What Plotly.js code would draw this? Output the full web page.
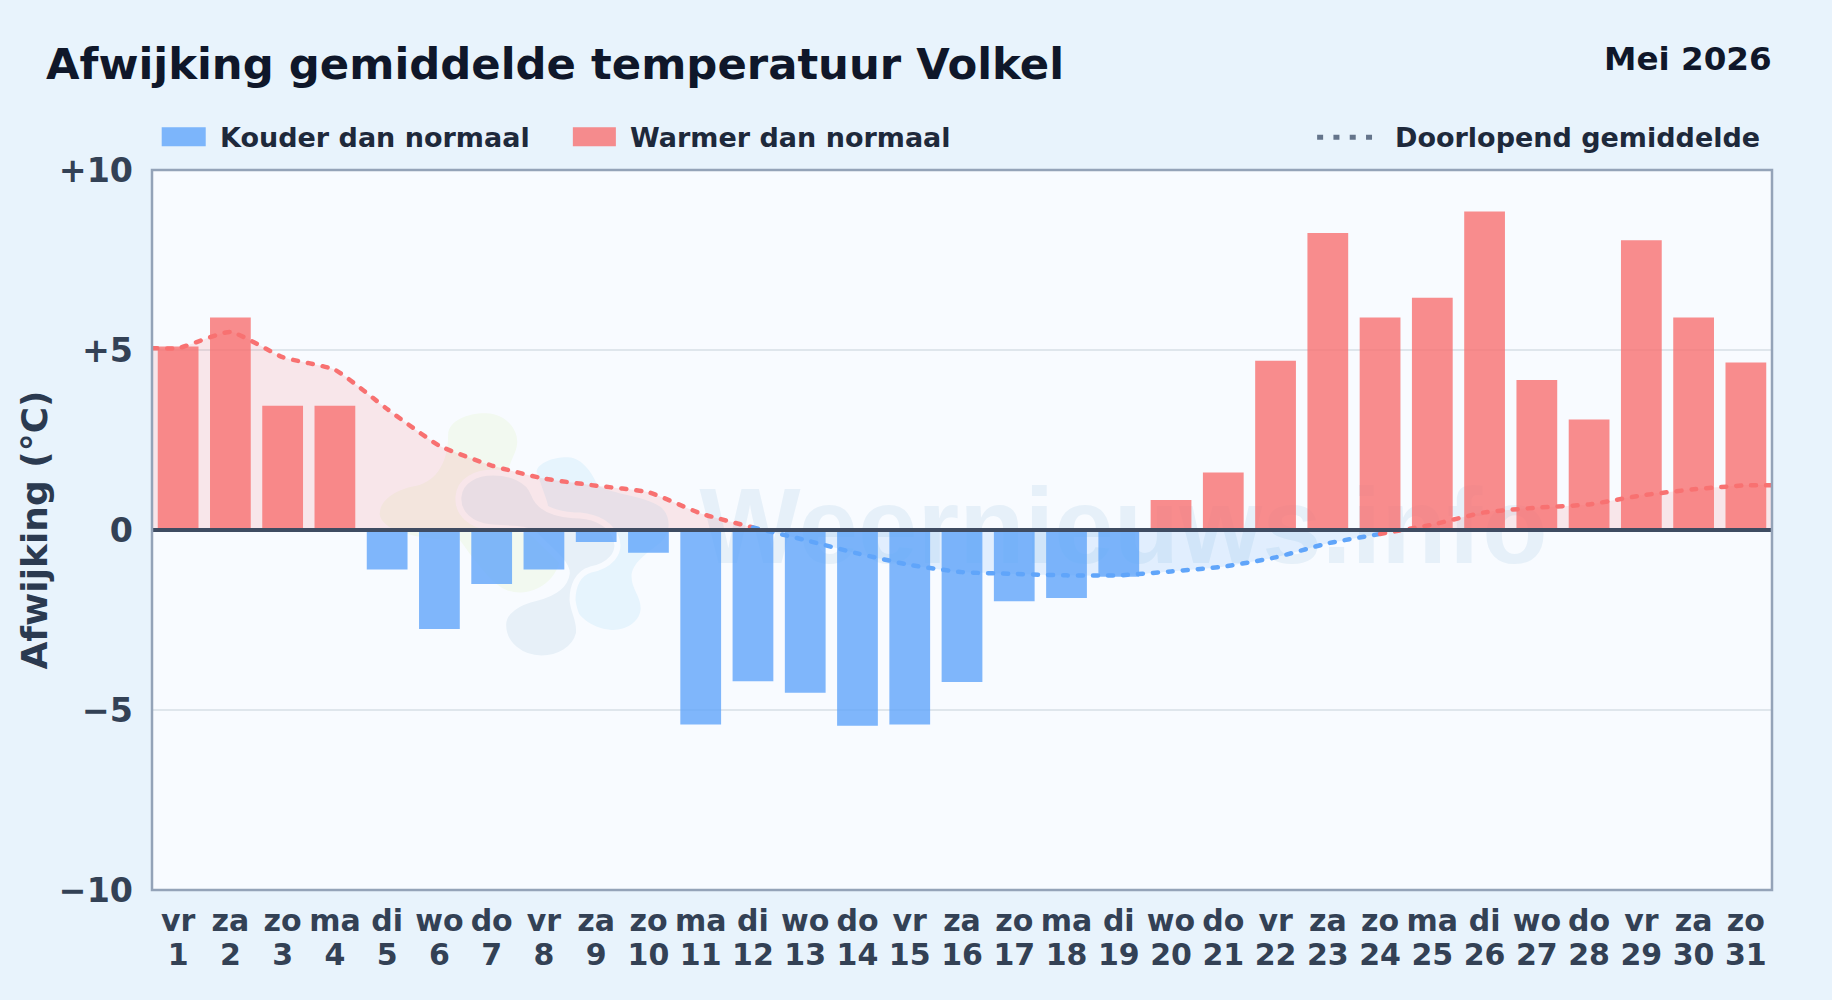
<!DOCTYPE html>
<html><head><meta charset="utf-8">
<script src="https://cdn.plot.ly/plotly-3.0.1.min.js"></script>
<style>
html,body{margin:0;padding:0;background:#e8f3fc}
#chart{width:1832px;height:1000px}
.js-line{stroke-linecap:round}
</style></head><body><div id="chart"></div>
<script>
const days=[1,2,3,4,5,6,7,8,9,10,11,12,13,14,15,16,17,18,19,20,21,22,23,24,25,26,27,28,29,30,31];
const weekdays=['vr','za','zo','ma','di','wo','do','vr','za','zo','ma','di','wo','do','vr','za','zo','ma','di','wo','do','vr','za','zo','ma','di','wo','do','vr','za','zo'];
const deviation=[5.1,5.9,3.45,3.45,-1.1,-2.75,-1.5,-1.1,-0.33,-0.63,-5.4,-4.2,-4.52,-5.44,-5.4,-4.22,-1.98,-1.89,-1.3,0.83,1.6,4.7,8.25,5.9,6.45,8.85,4.17,3.07,8.05,5.9,4.65];
const runningMean=[5.05,5.5,4.8,4.45,3.36,2.34,1.79,1.43,1.23,1.05,0.46,0.07,-0.28,-0.65,-0.97,-1.17,-1.22,-1.26,-1.26,-1.15,-1.02,-0.76,-0.37,-0.11,0.15,0.49,0.62,0.71,0.96,1.13,1.24];
const yTickVals=[-10,-5,0,5,10];
const yTickText=['−10','−5','0','+5','+10'];
const COLD='#60a5fa',WARM='#f87171';
const FONT='"DejaVu Sans", sans-serif';
const L=152.3,R=1771.7,T=169.8,B=890.4;
const px=x=>(x-L)/(R-L), py=y=>1-(y-T)/(B-T);

const lx=[0.5,...days,31.5];
const ly=[runningMean[0],...runningMean,runningMean[30]];
function runs(){
  const out=[];let cur=null;
  for(let i=1;i<lx.length;i++){
    const c=ly[i]>=0?'w':'c';
    if(!cur||cur.c!==c){cur={c,x:[lx[i-1]],y:[ly[i-1]]};out.push(cur);}
    cur.x.push(lx[i]);cur.y.push(ly[i]);
  }
  return out;
}
const lineTraces=runs().map(r=>({
  type:'scatter',mode:'lines',x:r.x,y:r.y,fill:'tozeroy',
  fillcolor:r.c==='w'?'rgba(248,113,113,0.15)':'rgba(96,165,250,0.15)',
  line:{color:r.c==='w'?WARM:COLD,width:4.5,dash:'5px,10px',shape:'spline',smoothing:0.5},
  showlegend:false,hoverinfo:'skip',name:'Doorlopend gemiddelde'}));
const barCold={type:'bar',name:'Kouder dan normaal',x:days,y:deviation.map(v=>v<0?v:null),width:0.78,
  marker:{color:'rgba(96,165,250,0.8)'},showlegend:false};
const barWarm={type:'bar',name:'Warmer dan normaal',x:days,y:deviation.map(v=>v>=0?v:null),width:0.78,
  marker:{color:'rgba(248,113,113,0.8)'},showlegend:false};
// carries the second line of the tick labels
const dayAxisCarrier={type:'scatter',mode:'none',x:days,y:days.map(()=>null),xaxis:'x2',showlegend:false,hoverinfo:'skip'};

function blob(d,ox,oy){
  return d.replace(/(-?[\d.]+),(-?[\d.]+)/g,(m,a,b)=>px(ox+a/3).toFixed(5)+','+py(oy+b/3).toFixed(5));
}
const gPath='M265,105 C265,60 330,38 380,40 C440,42 475,90 472,130 C470,170 430,200 450,260 L600,480 C590,540 530,580 480,578 C430,576 400,560 300,420 C200,420 70,400 60,345 C58,300 110,270 160,260 C220,250 265,200 265,105 Z';
const bPath='M530,215 C535,185 590,170 625,172 C670,175 700,225 712,255 C760,285 850,285 900,320 C935,345 935,400 900,430 C860,460 815,490 815,530 C815,570 845,590 842,630 C838,670 790,695 750,690 C700,685 640,650 640,590 L560,300 Z';
const dPath='M296,290 C300,240 350,218 400,218 C450,218 505,236 522,282 C534,316 570,341 640,346 C690,346 744,361 766,408 C790,462 744,499 692,509 C654,519 638,560 638,600 C641,640 662,660 657,702 C645,750 595,776 545,776 C485,776 430,735 430,675 C430,632 478,606 530,594 C578,582 616,558 621,520 C621,484 560,444 530,409 C500,379 440,389 390,382 C336,376 291,342 296,290 Z';
const shapes=[
 {type:'path',xref:'paper',yref:'paper',layer:'below',path:blob(gPath,360,400),fillcolor:'#f2f9f0',line:{width:0}},
 {type:'path',xref:'paper',yref:'paper',layer:'below',path:blob(bPath,360,400),fillcolor:'#e6f4fd',line:{width:0}},
 {type:'path',xref:'paper',yref:'paper',layer:'below',path:blob(dPath,360,400),fillcolor:'#e7f0f8',line:{width:6,color:'#f8fbff'}},
 {type:'rect',xref:'paper',yref:'paper',layer:'below',x0:px(698),x1:px(1549),y0:py(576),y1:py(456),fillcolor:'rgba(0,0,0,0)',line:{width:0},
  label:{text:'Weernieuws.info',textposition:'middle center',font:{family:'"Liberation Sans", sans-serif',size:107,weight:700,color:'#e6f0f9'}}},
 // zero line on top of the bars
 {type:'line',xref:'paper',yref:'y',x0:0,x1:1,y0:0,y1:0,line:{color:'#3f4c62',width:4}},
 // plot frame
 {type:'rect',xref:'paper',yref:'paper',x0:0,x1:1,y0:0,y1:1,fillcolor:'rgba(0,0,0,0)',line:{color:'#94a3b8',width:2.5}},
 // legend swatches
 {type:'rect',xref:'paper',yref:'paper',x0:px(162),x1:px(206),y0:py(146),y1:py(127),fillcolor:'rgba(96,165,250,0.8)',line:{width:0}},
 {type:'rect',xref:'paper',yref:'paper',x0:px(573),x1:px(616),y0:py(146),y1:py(127),fillcolor:'rgba(248,113,113,0.8)',line:{width:0}},
 {type:'line',xref:'paper',yref:'paper',x0:px(1317),x1:px(1373),y0:py(137),y1:py(137),line:{color:'#64748b',width:5,dash:'6px,10.3px'}}
];
const legendFont={family:FONT,size:27,weight:700,color:'#1e293b'};
const annotations=[
 {xref:'paper',yref:'paper',x:px(218),y:py(137.7),xanchor:'left',yanchor:'middle',showarrow:false,text:'Kouder dan normaal',font:legendFont},
 {xref:'paper',yref:'paper',x:px(628),y:py(137.7),xanchor:'left',yanchor:'middle',showarrow:false,text:'Warmer dan normaal',font:legendFont},
 {xref:'paper',yref:'paper',x:px(1393),y:py(137.7),xanchor:'left',yanchor:'middle',showarrow:false,text:'Doorlopend gemiddelde',font:legendFont},
 {xref:'paper',yref:'paper',x:px(1773.5),y:py(59),xanchor:'right',yanchor:'middle',showarrow:false,text:'Mei 2026',font:{family:FONT,size:32.6,weight:700,color:'#0f172a'}}
];
const xTickFont={family:FONT,size:30,weight:700,color:'#334155'};
const layout={
 width:1832,height:1000,paper_bgcolor:'#e8f3fc',plot_bgcolor:'#f8fbff',
 margin:{l:L,r:1832-R,t:T,b:1000-B,pad:0},barmode:'overlay',showlegend:false,
 title:{text:'Afwijking gemiddelde temperatuur Volkel',x:46/1832,xanchor:'left',xref:'container',yref:'container',y:1-64.3/1000,yanchor:'middle',
   font:{family:FONT,size:43.35,weight:700,color:'#0f172a'}},
 xaxis:{type:'linear',range:[0.5,31.5],tickmode:'array',tickvals:days,ticktext:weekdays,tickangle:0,
   showgrid:false,zeroline:false,showline:false,ticks:'',ticklabelstandoff:10,tickfont:xTickFont},
 xaxis2:{type:'linear',range:[0.5,31.5],overlaying:'x',side:'bottom',anchor:'y',tickmode:'array',tickvals:days,ticktext:days.map(String),tickangle:0,
   showgrid:false,zeroline:false,showline:false,ticks:'',ticklabelstandoff:44,tickfont:xTickFont},
 yaxis:{range:[-10,10],tickmode:'array',tickvals:yTickVals,ticktext:yTickText,showgrid:true,gridcolor:'#dfe6ec',gridwidth:2,
   zeroline:false,showline:false,ticks:'',ticklabelstandoff:18,
   tickfont:{family:FONT,size:33.3,weight:700,color:'#334155'},
   title:{text:'Afwijking (°C)',standoff:0,font:{family:FONT,size:36,weight:700,color:'#2b3a50'}}},
 shapes,annotations
};
Plotly.newPlot('chart',[...lineTraces,barCold,barWarm,dayAxisCarrier],layout,{displayModeBar:false,staticPlot:true});
</script></body></html>
